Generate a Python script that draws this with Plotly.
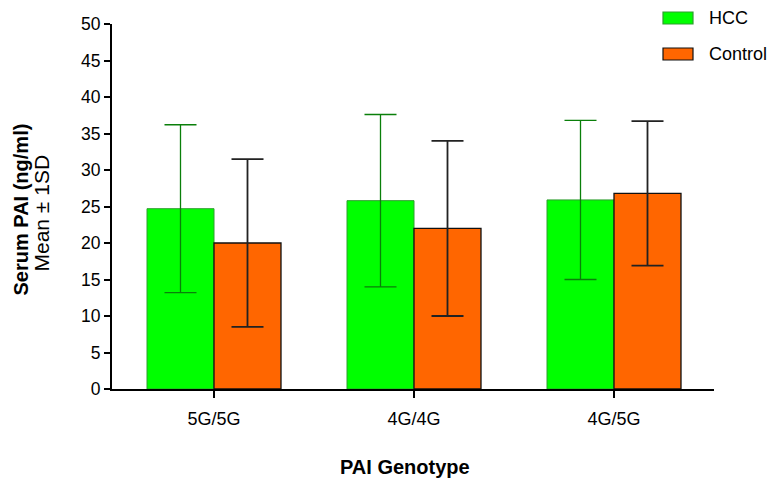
import plotly.graph_objects as go

categories = ["5G/5G", "4G/4G", "4G/5G"]
hcc_mean = [24.7, 25.8, 25.9]
hcc_sd = [11.5, 11.8, 10.9]
ctrl_mean = [20.0, 22.0, 26.8]
ctrl_sd = [11.5, 12.0, 9.9]
y_ticks = list(range(0, 55, 5))

FONT = "Liberation Sans, Arial, sans-serif"

fig = go.Figure()
fig.add_trace(go.Bar(
    x=categories, y=hcc_mean, name="HCC",
    marker=dict(color="#00FF00", line=dict(color="#2E9E2E", width=1)),
    error_y=dict(type="data", array=hcc_sd, visible=True, color="#0A7F0A", thickness=1.3, width=16),
    showlegend=False,
))
fig.add_trace(go.Bar(
    x=categories, y=ctrl_mean, name="Control",
    marker=dict(color="#FF6600", line=dict(color="#111111", width=1.3)),
    error_y=dict(type="data", array=ctrl_sd, visible=True, color="#222222", thickness=1.8, width=16),
    showlegend=False,
))

fig.update_layout(
    width=772, height=484,
    margin=dict(l=112, r=58, t=24, b=95),
    paper_bgcolor="white", plot_bgcolor="white",
    barmode="group", bargap=0.33, bargroupgap=0,
    font=dict(family=FONT, size=17, color="black"),
    xaxis=dict(
        range=[-0.51, 2.5], showgrid=False, zeroline=False,
        showline=True, linecolor="black", linewidth=2,
        ticks="outside", ticklen=7, tickwidth=2, tickcolor="black",
        tickfont=dict(size=18), ticklabelstandoff=5,
    ),
    yaxis=dict(
        range=[0, 50], tickvals=y_ticks, showgrid=False, zeroline=False,
        showline=True, linecolor="black", linewidth=2,
        ticks="outside", ticklen=6, tickwidth=2, tickcolor="black",
        tickfont=dict(size=17.5),
    ),
)

# axis titles
fig.add_annotation(xref="paper", yref="paper", x=0.5, y=0, xshift=-8, yshift=-78,
                   text="<b>PAI Genotype</b>", showarrow=False,
                   font=dict(size=20), xanchor="center", yanchor="middle")
fig.add_annotation(xref="paper", yref="paper", x=0, y=0.5, xshift=-92, yshift=-3,
                   text="<b>Serum PAI (ng/ml)</b>", showarrow=False, textangle=-90,
                   font=dict(size=20), xanchor="center", yanchor="middle")
fig.add_annotation(xref="paper", yref="paper", x=0, y=0.5, xshift=-71, yshift=-7,
                   text="Mean \u00b1 1SD", showarrow=False, textangle=-90,
                   font=dict(size=21), xanchor="center", yanchor="middle")

# custom legend
legend_items = [("HCC", "#00FF00", "#2E9E2E"), ("Control", "#FF6600", "#111111")]
for i, (name, fill, edge) in enumerate(legend_items):
    y0 = 12 + i * 36
    fig.add_shape(type="rect", xref="paper", yref="paper",
                  x0=(663 - 112) / 602, x1=(693 - 112) / 602,
                  y0=(389 - (y0 + 12)) / 365, y1=(389 - y0) / 365,
                  fillcolor=fill, line=dict(color=edge, width=1.2))
    fig.add_annotation(xref="paper", yref="paper", x=(709 - 112) / 602, xshift=-2,
                       y=(389 - (y0 + 6)) / 365, text=name, showarrow=False,
                       xanchor="left", yanchor="middle", font=dict(size=18))

fig.write_html("out.html", config={"displayModeBar": False},
               post_script="document.body.style.margin='0';document.body.style.overflow='hidden';")
